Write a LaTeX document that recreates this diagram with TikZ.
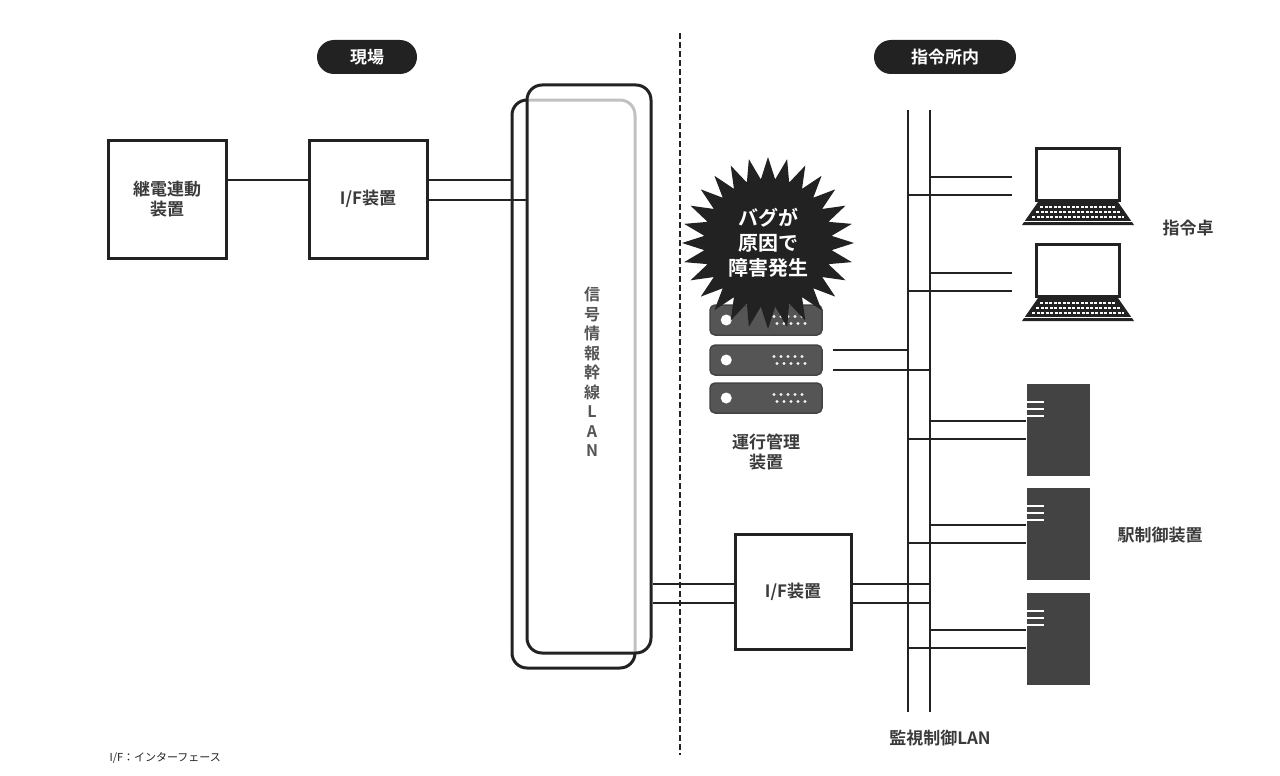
\documentclass[tikz,border=0pt]{standalone}
\usepackage{fontspec}
\setmainfont{Noto Sans CJK JP}
\newfontfamily\jpb{Noto Sans CJK JP Bold}
\usetikzlibrary{positioning}
\definecolor{dk}{HTML}{222222}
\definecolor{gr}{HTML}{555555}
\definecolor{tx}{HTML}{3a3a3a}
\begin{document}
\begin{tikzpicture}[x=1pt,y=-1pt,
  box/.style={draw=dk,line width=3pt,fill=white,font=\jpb\fontsize{17}{20}\selectfont,text=tx,align=center,inner sep=0},
  pill/.style={fill=dk,rounded corners=17pt,text=white,font=\jpb\fontsize{17}{20}\selectfont,minimum height=34pt,inner sep=0},
  ln/.style={draw=dk,line width=2pt},
  lbl/.style={font=\jpb\fontsize{17}{20}\selectfont,text=tx},
  srv/.style={fill=gr,draw=gr!80!black,line width=1.5pt,rounded corners=5pt,minimum width=112pt,minimum height=30pt,inner sep=0},
  dev/.style={fill=dk!85!white,minimum width=63pt,minimum height=92pt,inner sep=0}]
\useasboundingbox (0,0) rectangle (1280,776);
% badges
\node[pill,minimum width=100pt] (b1) at (367,57) {現場};
\node[pill,minimum width=142pt] (b2) at (945,57) {指令所内};
% dashed divider
\coordinate (dv1) at (680,33); \coordinate (dv2) at (680,755);
\draw[dk,line width=2pt,dash pattern=on 6pt off 3pt] (dv1) -- (dv2);
% left boxes
\node[box,minimum width=118pt,minimum height=118pt] (rel) at (167,199) {継電連動\\装置};
\node[box,minimum width=118pt,minimum height=118pt] (if1) at (368,199) {I/F装置};
\draw[ln] (rel.east |- 0,180) -- (if1.west |- 0,180);
% LAN boxes
\draw[dk,line width=3pt,rounded corners=15pt] (512,100) rectangle (635,668);
\node[draw=dk,line width=3pt,rounded corners=15pt,fill=white,fill opacity=0.72,minimum width=124pt,minimum height=568pt,inner sep=0] (lan) at (589,369) {};
\node[lbl,align=center,font=\jpb\fontsize{16}{19.5}\selectfont,text=gr] (lant) at (592,372) {信\\号\\情\\報\\幹\\線\\L\\A\\N};
\coordinate (lanb) at (512,180);
\draw[ln] (if1.east |- 0,180) -- (lanb);
\draw[ln] (if1.east |- 0,200) -- (lan.west |- 0,200);
% IF2
\node[box,minimum width=116pt,minimum height=115pt] (if2) at (793,592) {I/F装置};
\draw[ln] (lan.east |- 0,584) -- (if2.west |- 0,584);
\draw[ln] (lan.east |- 0,603) -- (if2.west |- 0,603);
% bus
\coordinate (ba1) at (908,110); \coordinate (ba2) at (908,712);
\coordinate (bb1) at (930,110); \coordinate (bb2) at (930,712);
\draw[ln] (ba1) -- (ba2); \draw[ln] (bb1) -- (bb2);
\node[lbl] (bl) at (940,738) {監視制御LAN};
\draw[ln] (if2.east |- 0,584) -- (bb1 |- 0,584);
\draw[ln] (if2.east |- 0,603) -- (bb1 |- 0,603);
% servers
\foreach \n/\y in {s1/320,s2/360,s3/398}{
  \node[srv] (\n) at (766,\y) {};
  \fill[white] (\n.west) ++(17,0) circle (5.5pt);
  \foreach \k in {0,...,4}{\fill[white!90!gray] (\n.center) ++(8+\k*7,-3.5) circle (1.7pt); \fill[white!90!gray] (\n.center) ++(11+\k*7,3.5) circle (1.7pt);}
}
\node[lbl,align=center] (sl) at (766,452) {運行管理\\装置};
\draw[ln] (s2.east |- 0,350) ++(10,0) -- (ba1 |- 0,350);
\draw[ln] (s2.east |- 0,370) ++(10,0) -- (bb1 |- 0,370);
% burst
\coordinate (bc) at (768,243);
\fill[dk] (bc) +(0:86) \foreach \i in {0,...,27}{ -- +(\i*12.857:86) -- +(\i*12.857+6.43:64) } -- cycle;
\node[font=\jpb\fontsize{20}{25}\selectfont,text=white,align=center] (bug) at (bc) {バグが\\原因で\\障害発生};
% laptops
\foreach \n/\y in {p1/147,p2/243}{
  \node[draw=dk,line width=3pt,minimum width=83pt,minimum height=52pt,inner sep=0,anchor=north] (\n) at (1078,\y) {};
  \fill[dk] (1038,\y+55) -- (1118,\y+55) -- (1134,\y+78) -- (1022,\y+78) -- cycle;
  \foreach \r in {0,1,2}{\draw[white,line width=1.2pt,dash pattern=on 3pt off 1.5pt] (1040-\r*4,\y+60+\r*5) -- (1116+\r*4,\y+60+\r*5);}
  \draw[white,line width=0.8pt] (1024,\y+74) -- (1132,\y+74);
}
\draw[ln] (bb1 |- 0,177) -- (1012,177); \draw[ln] (ba1 |- 0,195) -- (1012,195);
\draw[ln] (bb1 |- 0,273) -- (1012,273); \draw[ln] (ba1 |- 0,291) -- (1012,291);
\node[lbl] (pl) at (1188,228) {指令卓};
% station devices
\foreach \n/\y in {d1/430,d2/534,d3/639}{
  \node[dev] (\n) at (1058,\y) {};
  \foreach \k in {0,1,2}{\draw[white,line width=2pt] (\n.north west) ++(0,18+\k*7) -- ++(18,0);}
  \draw[ln] (bb1 |- 0,\y-9) -- (\n.west |- 0,\y-9);
  \draw[ln] (ba1 |- 0,\y+9) -- (\n.west |- 0,\y+9);
}
\node[lbl] (dl) at (1160,535) {駅制御装置};
% footnote
\node[font=\fontsize{11}{13}\selectfont,text=dk,anchor=west] (fn) at (106,758) {I/F：インターフェース};
\end{tikzpicture}
\end{document}
